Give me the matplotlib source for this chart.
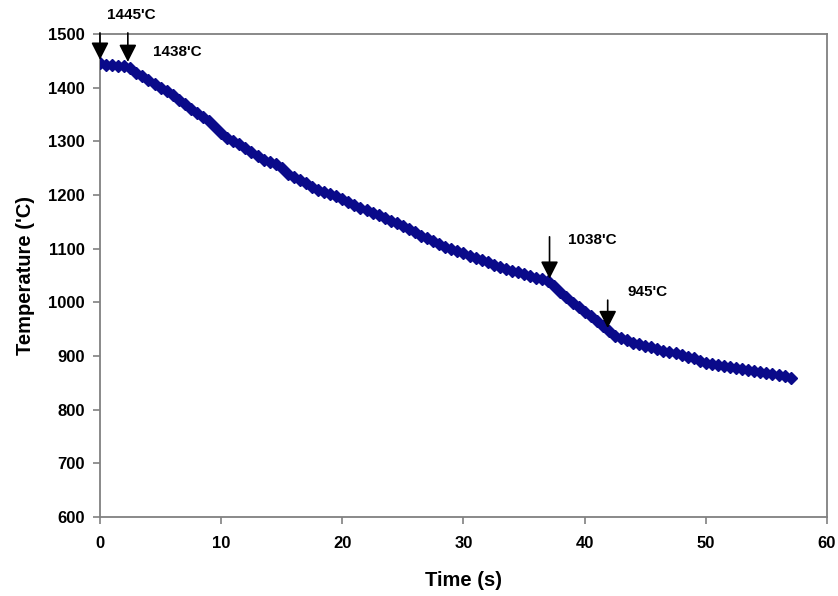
import matplotlib
matplotlib.use('Agg')
import matplotlib.pyplot as plt

plt.rcParams['font.family'] = ['Liberation Sans', 'DejaVu Sans']
plt.rcParams['font.weight'] = 'bold'

# tiempo (s) y temperatura (C)
tiempo = [0.0, 0.5, 1.0, 1.5, 2.0, 2.5, 3.0, 3.5, 4.0, 4.5,
          5.0, 5.5, 6.0, 6.5, 7.0, 7.5, 8.0, 8.5, 9.0, 9.5,
          10.0, 10.5, 11.0, 11.5, 12.0, 12.5, 13.0, 13.5, 14.0, 14.5,
          15.0, 15.5, 16.0, 16.5, 17.0, 17.5, 18.0, 18.5, 19.0, 19.5,
          20.0, 20.5, 21.0, 21.5, 22.0, 22.5, 23.0, 23.5, 24.0, 24.5,
          25.0, 25.5, 26.0, 26.5, 27.0, 27.5, 28.0, 28.5, 29.0, 29.5,
          30.0, 30.5, 31.0, 31.5, 32.0, 32.5, 33.0, 33.5, 34.0, 34.5,
          35.0, 35.5, 36.0, 36.5, 37.0, 37.5, 38.0, 38.5, 39.0, 39.5,
          40.0, 40.5, 41.0, 41.5, 42.0, 42.5, 43.0, 43.5, 44.0, 44.5,
          45.0, 45.5, 46.0, 46.5, 47.0, 47.5, 48.0, 48.5, 49.0, 49.5,
          50.0, 50.5, 51.0, 51.5, 52.0, 52.5, 53.0, 53.5, 54.0, 54.5,
          55.0, 55.5, 56.0, 56.5, 57.0]
temp = [1445, 1443, 1442, 1441, 1440, 1436, 1428, 1421, 1415, 1407,
        1399, 1393, 1386, 1377, 1369, 1361, 1353, 1346, 1338, 1326,
        1315, 1307, 1300, 1295, 1288, 1280, 1273, 1266, 1261, 1257,
        1250, 1240, 1233, 1228, 1222, 1214, 1209, 1205, 1202, 1198,
        1193, 1186, 1181, 1176, 1172, 1167, 1162, 1157, 1152, 1147,
        1142, 1137, 1131, 1124, 1119, 1115, 1108, 1103, 1099, 1095,
        1091, 1087, 1083, 1079, 1075, 1070, 1066, 1062, 1059, 1056,
        1053, 1049, 1046, 1043, 1039, 1030, 1019, 1009, 999, 991,
        982, 974, 965, 955, 946, 938, 933, 929, 925, 922,
        919, 916, 913, 910, 907, 905, 902, 899, 896, 890,
        886, 885, 884, 882, 880, 878, 876, 874, 872, 870,
        868, 866, 864, 862, 859]

# flechas: (texto, x, y punta, y cola, x texto, y texto)
etiquetas = ["1445'C", "1438'C", "1038'C", "945'C"]
flecha_x = [0.0, 2.3, 37.1, 41.9]
flecha_punta = [1452, 1448, 1044, 952]
flecha_cola = [1502, 1502, 1122, 1004]
texto_x = [0.6, 4.4, 38.6, 43.5]
texto_y = [1535, 1466, 1116, 1019]

fig = plt.figure(figsize=(8.38, 5.96), dpi=100)
ax = fig.add_axes([0.1193, 0.1326, 0.8676, 0.8104])

ax.plot(tiempo, temp, color='#0a0a8a', marker='D', ms=6, lw=3, zorder=3)

for i in range(len(etiquetas)):
    ax.annotate('', xy=(flecha_x[i], flecha_punta[i]), xytext=(flecha_x[i], flecha_cola[i]),
                arrowprops=dict(arrowstyle='-|>,head_length=0.75,head_width=0.38',
                                mutation_scale=14, color='black', lw=1.2,
                                shrinkA=0, shrinkB=0),
                annotation_clip=False, zorder=4)
    ax.text(texto_x[i], texto_y[i], etiquetas[i], fontsize=11, fontweight='bold',
            ha='left', va='center', clip_on=False)

ax.set_xlim(0, 60)
ax.set_ylim(600, 1500)
ax.set_xticks(range(0, 61, 10))
ax.set_yticks(range(600, 1501, 100))
ax.set_xlabel('Time (s)', fontsize=14.5, fontweight='bold', labelpad=14)
ax.set_ylabel("Temperature ('C)", fontsize=14.5, fontweight='bold', labelpad=9)

for s in ax.spines.values():
    s.set_color('#808080')
    s.set_linewidth(1.3)
ax.tick_params(direction='out', length=5, width=1.2, color='#808080',
               labelsize=12, pad=6)
ax.tick_params(axis='x', pad=9)
for lab in ax.get_xticklabels() + ax.get_yticklabels():
    lab.set_fontweight('bold')

plt.savefig('out.png', dpi=100)
